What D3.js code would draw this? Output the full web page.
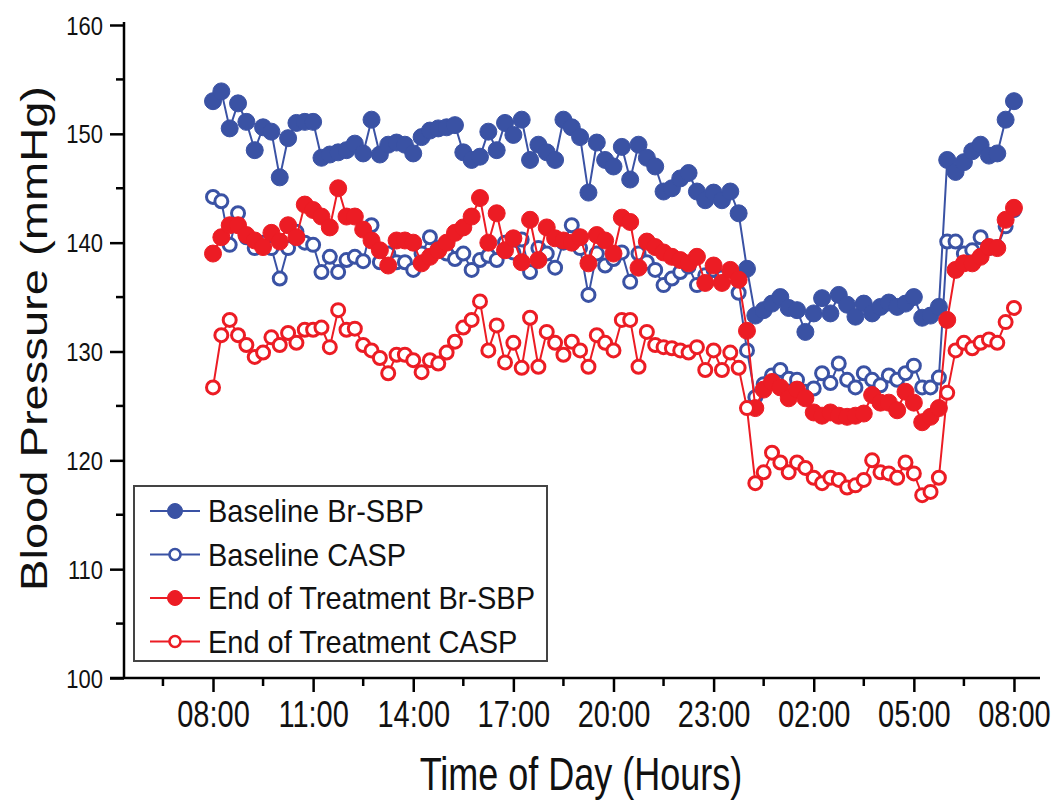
<!DOCTYPE html>
<html>
<head>
<meta charset="utf-8">
<script src="https://cdn.jsdelivr.net/npm/d3@7"></script>
<style>
	body { margin: 0; background: #fff; }
	text { font-family: Arial, 'Liberation Sans', sans-serif; fill: #111; }
</style>
</head>
<body>
<div id="chart"></div>
<script>
// readings every 15 minutes, 08:00 to 08:00 next day
const startHour = 8
const stepHours = 0.25

const baselineSbp = [
	153.0, 153.9, 150.5, 152.8, 151.1, 148.5, 150.6, 150.2, 146.0, 149.6, 151.0, 151.1, 151.1, 147.8, 148.1, 148.3,
	148.5, 149.1, 148.2, 151.3, 148.1, 149.0, 149.2, 149.0, 148.2, 149.7, 150.3, 150.5, 150.6, 150.8, 148.3, 147.6,
	147.9, 150.2, 148.5, 151.0, 149.9, 151.3, 147.6, 149.0, 148.3, 147.6, 151.3, 150.6, 149.7, 144.6, 149.2, 147.6,
	147.0, 148.8, 145.8, 149.0, 147.8, 147.0, 144.7, 145.0, 145.9, 146.4, 144.7, 143.9, 144.6, 143.9, 144.7, 142.7,
	137.6, 133.3, 133.8, 134.4, 135.0, 134.0, 133.8, 131.8, 133.5, 134.9, 133.5, 135.2, 134.3, 133.2, 134.4, 133.5,
	134.1, 134.5, 134.1, 134.4, 135.0, 133.1, 133.3, 134.1, 147.6, 146.5, 147.4, 148.4, 149.0, 148.0, 148.2, 151.3,
	153.0
]
const baselineCasp = [
	144.2, 143.8, 139.8, 142.7, 140.5, 139.5, 140.0, 139.5, 136.7, 139.5, 141.0, 140.0, 139.8, 137.3, 138.7, 137.3,
	138.4, 138.7, 138.3, 141.6, 138.2, 139.0, 138.2, 138.2, 137.5, 139.0, 140.5, 139.5, 139.0, 138.5, 139.0, 137.5,
	138.4, 138.8, 138.4, 140.0, 139.1, 140.3, 137.3, 139.5, 139.0, 137.7, 140.0, 141.6, 139.5, 135.2, 139.0, 137.9,
	138.5, 139.1, 136.4, 139.0, 138.2, 137.5, 136.1, 136.7, 137.3, 137.8, 136.1, 137.0, 137.5, 136.8, 137.0, 135.4,
	130.1, 125.8, 127.0, 127.8, 128.3, 127.5, 127.4, 126.3, 126.6, 128.0, 127.1, 128.9, 127.4, 126.7, 128.0, 127.4,
	126.9, 127.8, 127.4, 128.0, 128.7, 126.7, 126.7, 127.6, 140.1, 140.1, 139.0, 139.3, 140.5, 139.5, 139.6, 141.5,
	143.0
]
const treatedSbp = [
	139.0, 140.5, 141.6, 141.6, 140.7, 140.2, 139.6, 140.9, 140.1, 141.6, 140.5, 143.5, 143.0, 142.4, 141.4, 145.0,
	142.4, 142.4, 141.2, 140.2, 139.3, 137.9, 140.2, 140.2, 140.0, 138.1, 138.7, 139.3, 140.0, 140.9, 141.4, 142.4,
	144.1, 140.0, 142.7, 139.3, 140.4, 138.2, 142.1, 138.4, 141.4, 140.4, 140.2, 140.0, 140.5, 138.1, 140.7, 140.2,
	139.0, 142.3, 141.9, 137.7, 140.1, 139.6, 139.1, 138.7, 138.4, 138.1, 138.7, 136.3, 137.9, 136.3, 137.5, 136.6,
	131.9, 124.8, 126.5, 127.2, 126.7, 125.7, 126.5, 125.7, 124.4, 124.1, 124.4, 124.1, 124.0, 124.1, 124.3, 126.0,
	125.3, 125.3, 124.6, 126.3, 125.3, 123.5, 124.0, 124.8, 132.9, 137.5, 138.1, 138.1, 138.7, 139.6, 139.5, 142.1,
	143.2
]
const treatedCasp = [
	126.7, 131.5, 132.9, 131.5, 130.6, 129.5, 129.9, 131.3, 130.6, 131.7, 130.8, 132.0, 132.0, 132.2, 130.4, 133.8,
	132.0, 132.1, 130.6, 130.1, 129.4, 128.0, 129.7, 129.7, 129.2, 128.1, 129.2, 128.9, 129.9, 130.9, 132.2, 132.9,
	134.6, 130.1, 132.4, 129.0, 130.8, 128.5, 133.1, 128.6, 131.8, 130.8, 129.7, 130.9, 130.1, 128.6, 131.5, 130.8,
	130.1, 132.9, 132.9, 128.6, 131.8, 130.6, 130.4, 130.3, 130.1, 129.9, 130.4, 128.3, 130.1, 128.3, 129.9, 128.5,
	124.8, 117.9, 118.9, 120.7, 119.8, 118.9, 119.8, 119.3, 118.4, 117.9, 118.4, 118.2, 117.5, 117.7, 118.2, 120.0,
	118.9, 118.8, 118.4, 119.8, 118.8, 116.8, 117.1, 118.4, 126.2, 130.1, 130.8, 130.3, 130.8, 131.1, 130.8, 132.7,
	134.0
]

const seriesNames = ['Baseline Br-SBP', 'Baseline CASP', 'End of Treatment Br-SBP', 'End of Treatment CASP']
const tickHours = [8, 11, 14, 17, 20, 23, 26, 29, 32]
const tickLabels = ['08:00', '11:00', '14:00', '17:00', '20:00', '23:00', '02:00', '05:00', '08:00']
const yTicks = [100, 110, 120, 130, 140, 150, 160]

const blue = '#3a52a4'
const red = '#ec1c24'

const series = [
	{ name: seriesNames[0], values: baselineSbp, color: blue, filled: true },
	{ name: seriesNames[1], values: baselineCasp, color: blue, filled: false },
	{ name: seriesNames[2], values: treatedSbp, color: red, filled: true },
	{ name: seriesNames[3], values: treatedCasp, color: red, filled: false }
]

const width = 1053
const height = 802
const margin = { left: 124, right: 13, top: 22, bottom: 124 }

const svg = d3.select('#chart')
	.append('svg')
	.attr('width', width)
	.attr('height', height)

const x = d3.scaleLinear()
	.domain([5.333, 32.78])
	.range([margin.left, width - margin.right])

const y = d3.scaleLinear()
	.domain([100, 160])
	.range([678, 25])

const hourOf = i => startHour + i * stepHours

// axes
const xAxis = svg.append('g')
	.attr('transform', `translate(0,${y(100)})`)
	.call(d3.axisBottom(x).tickValues(tickHours).tickFormat((d, i) => tickLabels[i]).tickSize(14).tickPadding(0))
xAxis.selectAll('.tick text')
	.style('font-size', '29px')
	.attr('y', 0)
	.attr('dy', 0)
	.attr('transform', 'translate(0,49) scale(1,1.25)')
xAxis.append('g')
	.selectAll('line')
	.data(tickHours.map(h => h - 1.5))
	.join('line')
	.attr('x1', d => x(d))
	.attr('x2', d => x(d))
	.attr('y1', 0)
	.attr('y2', 8)
	.attr('stroke', '#000')
	.attr('stroke-width', 2.5)

const yAxis = svg.append('g')
	.attr('transform', `translate(${margin.left},0)`)
	.call(d3.axisLeft(y).tickValues(yTicks).tickSize(14).tickPadding(7))
yAxis.selectAll('.tick text')
	.style('font-size', '22px')
	.attr('dy', '0.36em')
	.attr('transform', 'scale(1,1.15)')
yAxis.append('g')
	.selectAll('line')
	.data(yTicks.slice(0, -1).map(v => v + 5))
	.join('line')
	.attr('y1', d => y(d))
	.attr('y2', d => y(d))
	.attr('x1', 0)
	.attr('x2', -8)
	.attr('stroke', '#000')
	.attr('stroke-width', 2.5)

svg.selectAll('.domain').attr('stroke-width', 2.5).attr('stroke', '#000')
svg.selectAll('.tick line').attr('stroke-width', 2.5).attr('stroke', '#000')
xAxis.select('.domain').attr('d', `M${margin.left - 14},0H${width - margin.right}`)
yAxis.select('.domain').attr('d', `M0,${y(100)}V${margin.top}`)

// titles
svg.append('text')
	.attr('x', 581)
	.attr('y', 0)
	.attr('transform', 'translate(0,790) scale(1,1.3)')
	.attr('text-anchor', 'middle')
	.style('font-size', '36px')
	.text('Time of Day (Hours)')

svg.append('text')
	.attr('transform', `translate(47,${(85 + 592) / 2}) rotate(-90)`)
	.attr('text-anchor', 'middle')
	.attr('textLength', 505)
	.attr('lengthAdjust', 'spacingAndGlyphs')
	.style('font-size', '36px')
	.text('Blood Pressure (mmHg)')

// lines and markers
const line = d3.line()
	.x((d, i) => x(hourOf(i)))
	.y(d => y(d))

const plot = svg.append('g')

series.forEach(s => {
	const g = plot.append('g')
	g.append('path')
		.datum(s.values)
		.attr('d', line)
		.attr('fill', 'none')
		.attr('stroke', s.color)
		.attr('stroke-width', 2)
	g.selectAll('circle')
		.data(s.values)
		.join('circle')
		.attr('cx', (d, i) => x(hourOf(i)))
		.attr('cy', d => y(d))
		.attr('r', s.filled ? 8.5 : 6.5)
		.attr('fill', s.filled ? s.color : '#fff')
		.attr('stroke', s.color)
		.attr('stroke-width', s.filled ? 1 : 3)
})

// legend
const legend = svg.append('g')
	.attr('transform', 'translate(134,486)')

legend.append('rect')
	.attr('width', 413)
	.attr('height', 175)
	.attr('fill', '#fff')
	.attr('stroke', '#444')
	.attr('stroke-width', 2)

series.forEach((s, i) => {
	const row = legend.append('g')
		.attr('transform', `translate(0,${25 + i * 43.5})`)
	row.append('line')
		.attr('x1', 16)
		.attr('x2', 66)
		.attr('stroke', s.color)
		.attr('stroke-width', 2)
	row.append('circle')
		.attr('cx', 41)
		.attr('r', s.filled ? 7.5 : 5.5)
		.attr('fill', s.filled ? s.color : '#fff')
		.attr('stroke', s.color)
		.attr('stroke-width', s.filled ? 1 : 2.6)
	row.append('text')
		.attr('x', 74)
		.attr('y', 0)
		.attr('dy', '0.35em')
		.attr('transform', 'scale(1,1.1)')
		.style('font-size', '29px')
		.text(s.name)
})
</script>
</body>
</html>
